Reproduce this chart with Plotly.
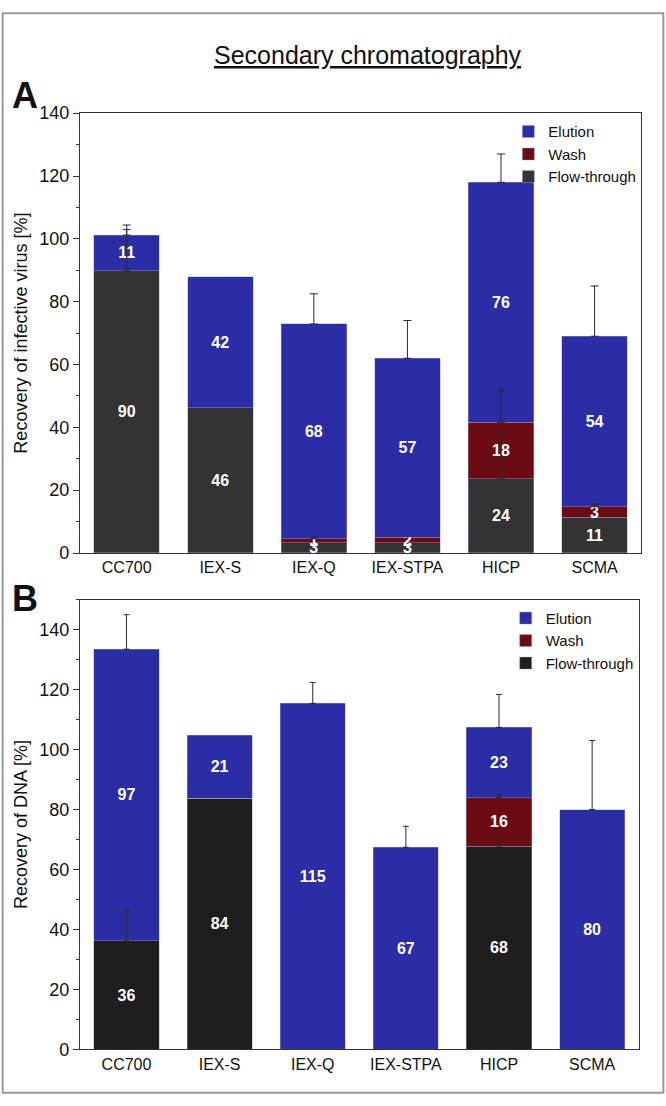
import numpy as np
import plotly.graph_objects as go

columns = ["CC700", "IEX-S", "IEX-Q", "IEX-STPA", "HICP", "SCMA"]

# panel A - infective virus recovery [%]
virus_flow = [89.8, 46.2, 3.2, 3.2, 23.6, 11.3]
virus_wash = [0, 0, 1.3, 1.8, 18.0, 3.4]
virus_elution = [11.4, 41.8, 68.4, 57.0, 76.4, 54.3]
virus_flow_err = [14.6, 0, 0, 0, 14.5, 0]
virus_wash_err = [0, 0, 0.8, 0, 10.3, 0.9]
virus_elution_err = [1.8, 0, 9.6, 12.0, 9.0, 16.0]

# panel B - DNA recovery [%]
dna_flow = [36.2, 83.8, 0, 0, 67.8, 0]
dna_wash = [0, 0, 0, 0, 16.2, 0]
dna_elution = [97.3, 21.0, 115.4, 67.4, 23.4, 80.0]
dna_flow_err = [10.3, 0, 0, 0, 2.2, 0]
dna_wash_err = [0, 0, 0, 0, 1.0, 0]
dna_elution_err = [11.5, 0, 7.0, 7.0, 11.0, 23.0]

BLUE = "#2a2da6"
RED = "#6a0c12"
FONT = "Liberation Sans"


def labels(vals):
    return [f"{v:.0f}" if v > 0 else "" for v in vals]


def add_panel(fig, n, flow, wash, elution, errs, flow_color, cap):
    xa, ya = ("x", "y") if n == 1 else ("x2", "y2")
    leg = "legend" if n == 1 else "legend2"
    segs = [("Flow-through", flow, flow_color), ("Wash", wash, RED), ("Elution", elution, BLUE)]
    for name, vals, col in segs:
        fig.add_trace(go.Bar(
            x=columns, y=vals, name=name, marker_color=col,
            marker_line=dict(width=0.6, color="rgba(160,160,200,0.7)"),
            text=labels(vals), texttemplate="<b>%{text}</b>", textangle=0,
            textposition="inside", insidetextanchor="middle", constraintext="none",
            textfont=dict(color="white", size=16, family=FONT),
            xaxis=xa, yaxis=ya, legend=leg, hoverinfo="skip",
        ))
    # one-sided error bars sitting on top of each stacked segment
    tops = np.cumsum([flow, wash, elution], axis=0)
    for top, err in zip(tops, errs):
        err = np.array(err, dtype=float)
        y = [t if e > 0 else None for t, e in zip(top, err)]
        fig.add_trace(go.Scatter(
            x=columns, y=y, mode="markers", marker=dict(size=1, opacity=0),
            error_y=dict(type="data", array=err, arrayminus=np.zeros_like(err),
                         symmetric=False, color="#2a2a2a", thickness=1, width=cap),
            xaxis=xa, yaxis=ya, showlegend=False, hoverinfo="skip",
        ))


fig = go.Figure()
add_panel(fig, 1, virus_flow, virus_wash, virus_elution,
          [virus_flow_err, virus_wash_err, virus_elution_err], "#333333", 4)
add_panel(fig, 2, dna_flow, dna_wash, dna_elution,
          [dna_flow_err, dna_wash_err, dna_elution_err], "#1e1e1e", 3)

xstyle = dict(showline=True, linecolor="#333", linewidth=1.2, mirror=True, ticks="",
              tickfont=dict(size=16, color="#111", family=FONT), range=[-0.5, 5.5])
ystyle = dict(showline=True, linecolor="#333", linewidth=1.2, mirror=True, ticks="outside",
              ticklen=6, tickcolor="#333", dtick=20, showgrid=False, zeroline=False,
              minor=dict(ticks="outside", ticklen=3, dtick=10, tickcolor="#333"),
              tickfont=dict(size=18, color="#111", family=FONT))

legstyle = dict(xanchor="right", yanchor="top", traceorder="reversed",
                font=dict(size=15, color="#111", family=FONT), tracegroupgap=0,
                bgcolor="rgba(0,0,0,0)", itemwidth=30)

fig.update_layout(
    width=666, height=1106, margin=dict(l=0, r=0, t=0, b=0),
    plot_bgcolor="white", paper_bgcolor="white",
    barmode="stack", bargap=0.3,
    font=dict(family=FONT, color="#111"),
    xaxis=dict(domain=[0.120, 0.963], anchor="y", **xstyle),
    xaxis2=dict(domain=[0.120, 0.959], anchor="y2", **xstyle),
    yaxis=dict(domain=[0.500, 0.905], anchor="x", range=[0, 140],
               title=dict(text="Recovery of infective virus [%]", font=dict(size=18, family=FONT), standoff=6),
               **ystyle),
    yaxis2=dict(domain=[0.043, 0.457], anchor="x2", range=[0, 150],
                title=dict(text="Recovery of DNA [%]", font=dict(size=18, family=FONT), standoff=6),
                **ystyle),
    legend=dict(x=0.963, y=0.903, **legstyle),
    legend2=dict(x=0.959, y=0.455, **legstyle),
    uniformtext=dict(minsize=16, mode="show"),
    showlegend=True,
)

fig.add_annotation(text="<u>Secondary chromatography</u>", x=0.553, y=0.959,
                   xanchor="center", yanchor="middle",
                   xref="paper", yref="paper", showarrow=False,
                   font=dict(size=25, family=FONT, color="#111"))
for letter, ypos in [("A", 0.921), ("B", 0.458)]:
    fig.add_annotation(text=f"<b>{letter}</b>", x=0.038, y=ypos, xanchor="center", yanchor="middle",
                       xref="paper", yref="paper", showarrow=False,
                       font=dict(size=36, family=FONT, color="#111"))
fig.add_shape(type="rect", xref="paper", yref="paper", x0=0.004, x1=0.996, y0=0.003, y1=0.997,
              line=dict(color="#9a9a9a", width=2))

fig.write_html("out.html", config={"displayModeBar": False},
               post_script="document.body.style.margin='0';")
